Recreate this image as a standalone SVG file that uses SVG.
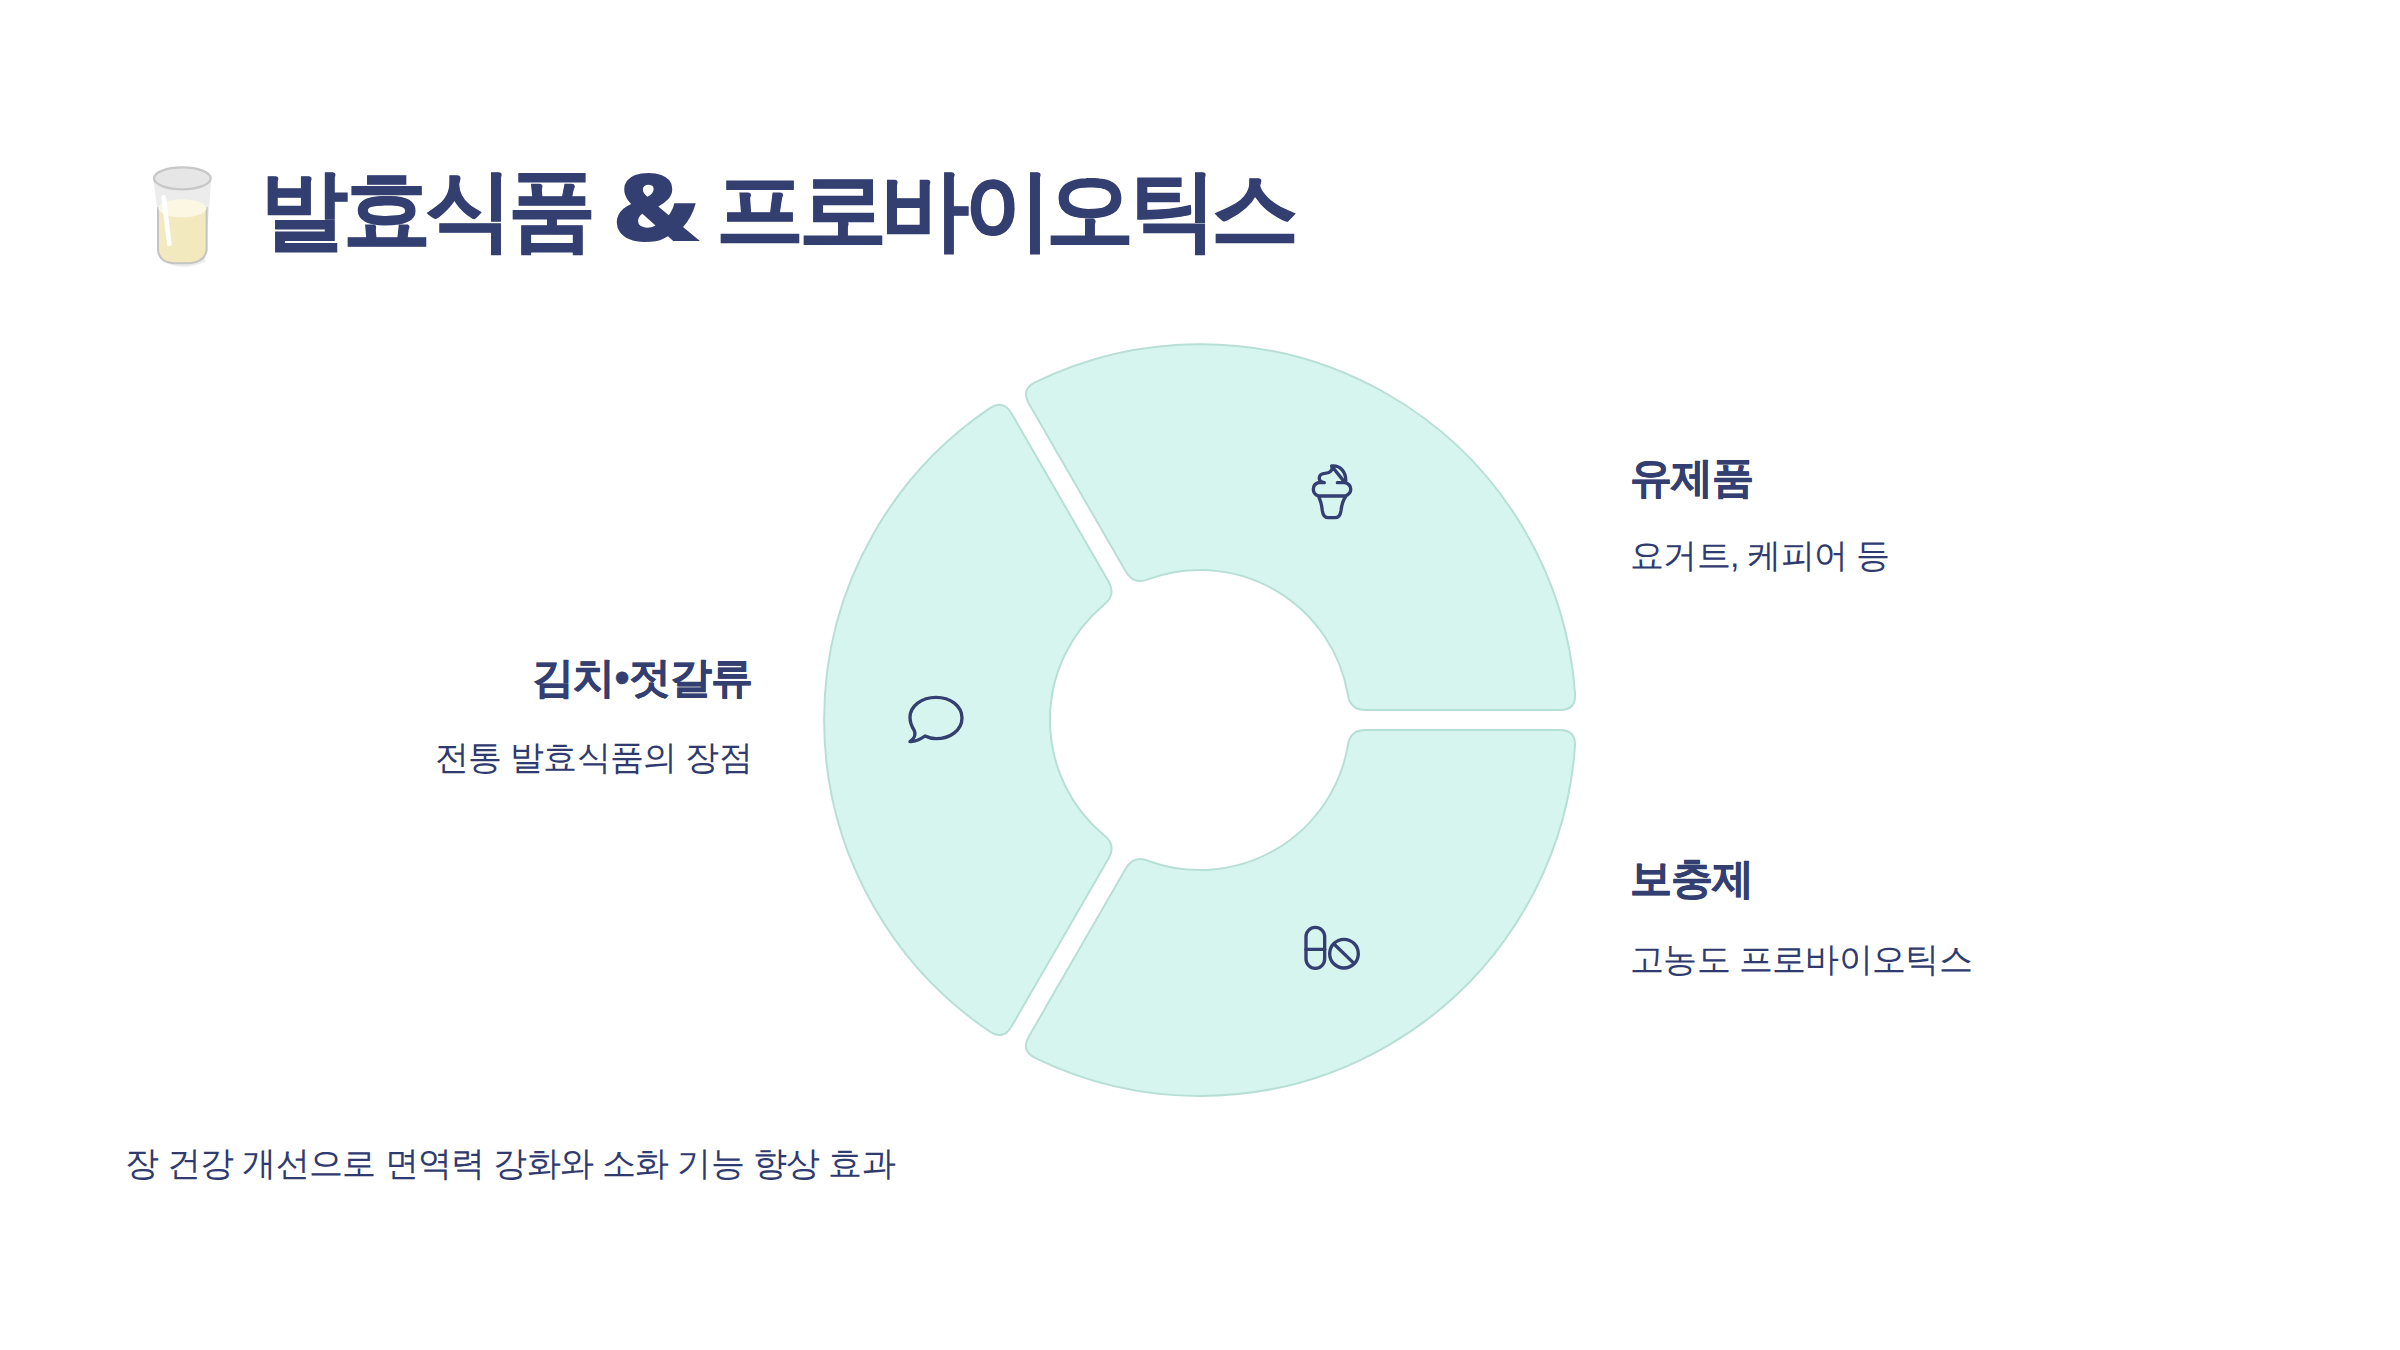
<svg xmlns="http://www.w3.org/2000/svg" xmlns:xlink="http://www.w3.org/1999/xlink" width="2400" height="1350" viewBox="0 0 2400 1350">
<style>
text{font-family:"Liberation Sans",sans-serif;fill:#2f3a6e}
.title{font-size:88px;font-weight:700;fill:#333f70;stroke:#333f70;stroke-width:1;letter-spacing:-5.5px}
.amp{font-family:"Noto Sans",sans-serif;font-size:94px;font-weight:900;fill:#333f70}
.head{font-size:42px;font-weight:700;fill:#333f70;letter-spacing:-.84px;stroke:#333f70;stroke-width:.5}
.sub{font-size:34px;font-weight:400;letter-spacing:-.68px}
.seg{fill:#d6f5ee;stroke:#b8dfd5;stroke-width:2}
.ic{fill:none;stroke:#333f70;stroke-width:10;stroke-linecap:round;stroke-linejoin:round}
</style>
<defs>
<path id="segment" d="M-165-337.7A376 376 0 0 1 375.1-26Q375.9-10 359.9-10L165.7-10Q149.7-10 147.8-25.9A150 150 0 0 0-51.5-140.9Q-66.2-134.6-74.2-148.5L-171.2-316.6Q-179.2-330.5-165-337.7Z"/>
</defs>
<rect width="2400" height="1350" fill="#fff"/>
<g id="title">
<g id="emoji" transform="translate(130 150) scale(.3333)">
<path d="M70 85L100 335Q157 365 225 335L244 85Z" fill="#ececec"/>
<path d="M84 175V300Q86 335 130 340H180Q225 335 230 300V175Z" fill="#f3e9bf" stroke="#c4c4c4" stroke-width="6"/>
<ellipse cx="157" cy="175" rx="72" ry="27" fill="#fbf7e2"/>
<ellipse cx="157" cy="85" rx="85" ry="33" fill="#e6e6e6" stroke="#c8c8c8" stroke-width="7"/>
<path d="M101 142L118 282" stroke="#fff" stroke-width="14" stroke-linecap="round" fill="none"/>
</g>
<text class="title" x="260" y="240">발효식품</text>
<text class="amp" transform="translate(613 241) scale(1.15 1)" x="0" y="0">&amp;</text>
<text class="title" x="716" y="240">프로바이오틱스</text>
</g>
<g id="seg-dairy">
<use xlink:href="#segment" href="#segment" class="seg" transform="translate(1200 720)"/>
<g class="ic" transform="translate(1280 440) scale(.3333)">
<path d="M155 78C180 75 200 95 197 128H172M195 128C218 135 218 160 195 168H115C95 160 95 135 115 128H133C110 125 115 100 135 100C150 100 160 90 155 78ZM115 168Q124 185 127 212Q130 233 145 233H165Q180 233 183 212Q186 185 198 168"/>
</g>
<text class="head" x="1630" y="492">유제품</text>
<text class="sub" x="1630" y="567">요거트, 케피어 등</text>
</g>
<g id="seg-supplement">
<use xlink:href="#segment" href="#segment" class="seg" transform="translate(1200 720) rotate(120)"/>
<g class="ic" transform="translate(1280 910) scale(.3333)">
<rect x="78" y="52" width="56" height="123" rx="28"/><path d="M78 118H134"/>
<circle cx="192" cy="131" r="43"/><path d="M165 105L222 160"/>
</g>
<text class="head" x="1630" y="893">보충제</text>
<text class="sub" x="1630" y="971">고농도 프로바이오틱스</text>
</g>
<g id="seg-kimchi">
<use xlink:href="#segment" href="#segment" class="seg" transform="translate(1200 720) rotate(240)"/>
<g class="ic" transform="translate(890 680) scale(.3333)">
<path d="M72 150C64 138 60 125 60 112C60 78 95 52 138 52C181 52 216 78 216 114C216 150 181 176 138 176C127 176 115 173 105 168C95 175 75 186 60 185C70 178 80 165 72 150Z"/>
</g>
<text class="head" x="752" y="692" text-anchor="end">김치•젓갈류</text>
<text class="sub" x="752" y="769" text-anchor="end">전통 발효식품의 장점</text>
</g>
<g id="connectors"/>
<text id="footer" class="sub" x="125" y="1175">장 건강 개선으로 면역력 강화와 소화 기능 향상 효과</text>
</svg>
